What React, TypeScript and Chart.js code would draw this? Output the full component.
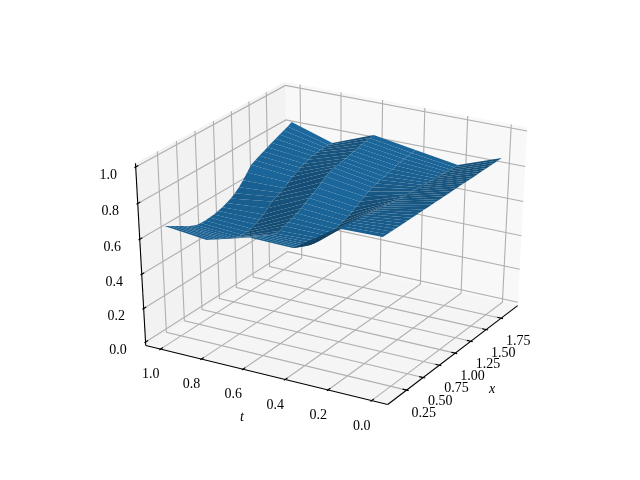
import React, { useEffect, useRef } from "react";
import { Chart, registerables } from "chart.js";

Chart.register(...registerables);

// ---- data ----
const xNodes = [0.1, 0.16, 0.22, 0.28, 0.34, 0.4, 0.46, 0.52, 0.58, 0.64, 0.7, 0.76, 0.82, 0.88, 0.94, 1.0, 1.06, 1.12, 1.18, 1.24, 1.3, 1.36, 1.42, 1.48, 1.54, 1.6, 1.66, 1.72, 1.78, 1.84, 1.9];
const tNodes = [0, 0.2, 0.4, 0.6, 0.8, 1.0];
const zAtT00 = [0.86, 0.86, 0.86, 0.86, 0.86, 0.86, 0.86, 0.86, 0.86, 0.86, 0.86, 0.86, 0.86, 0.86, 0.86, 0.86, 0.86, 0.86, 0.86, 0.86, 0.86, 0.86, 0.86, 0.86, 0.86, 0.86, 0.86, 0.86, 0.861, 0.861, 0.861];
const zAtT02 = [0.856, 0.852, 0.848, 0.844, 0.84, 0.836, 0.832, 0.828, 0.824, 0.82, 0.816, 0.812, 0.809, 0.805, 0.8, 0.798, 0.796, 0.794, 0.793, 0.791, 0.789, 0.787, 0.785, 0.784, 0.782, 0.78, 0.779, 0.778, 0.776, 0.775, 0.7735];
const zAtT04 = [0.695, 0.683, 0.671, 0.66, 0.65, 0.645, 0.641, 0.64, 0.641, 0.645, 0.65, 0.658, 0.666, 0.676, 0.688, 0.7, 0.715, 0.73, 0.744, 0.753, 0.76, 0.766, 0.772, 0.778, 0.784, 0.79, 0.796, 0.801, 0.805, 0.808, 0.811];
const zAtT06 = [0.7, 0.688, 0.676, 0.664, 0.652, 0.64, 0.632, 0.632, 0.644, 0.651, 0.66, 0.672, 0.685, 0.7, 0.714, 0.727, 0.744, 0.761, 0.779, 0.792, 0.8, 0.804, 0.809, 0.813, 0.819, 0.825, 0.831, 0.837, 0.843, 0.847, 0.85];
const zAtT08 = [0.634, 0.621, 0.608, 0.595, 0.581, 0.568, 0.556, 0.546, 0.543, 0.545, 0.548, 0.558, 0.57, 0.585, 0.605, 0.63, 0.641, 0.652, 0.665, 0.682, 0.7, 0.712, 0.724, 0.734, 0.743, 0.752, 0.757, 0.76, 0.76, 0.759, 0.7575];
const zAtT10 = [0.66, 0.645, 0.63, 0.615, 0.6, 0.585, 0.572, 0.561, 0.558, 0.557, 0.56, 0.563, 0.568, 0.575, 0.585, 0.597, 0.613, 0.633, 0.66, 0.69, 0.722, 0.733, 0.745, 0.756, 0.768, 0.78, 0.79, 0.8, 0.81, 0.821, 0.833];
const zRows = [zAtT00, zAtT02, zAtT04, zAtT06, zAtT08, zAtT10];

const xTicks = [0.25, 0.5, 0.75, 1.0, 1.25, 1.5, 1.75];
const xTickLabels = ["0.25", "0.50", "0.75", "1.00", "1.25", "1.50", "1.75"];
const tTicks = [0, 0.2, 0.4, 0.6, 0.8, 1.0];
const tTickLabels = ["0.0", "0.2", "0.4", "0.6", "0.8", "1.0"];
const zTicks = [0, 0.2, 0.4, 0.6, 0.8, 1.0];
const zTickLabels = ["0.0", "0.2", "0.4", "0.6", "0.8", "1.0"];
const xLim = [0.01, 1.99];
const tLim = [-0.05, 1.05];
const zLim = [0, 1];

// ---- 3D view (elevation 30, azimuth 210, distance 10) ----
const rad = Math.PI / 180;
const el = 30 * rad;
const az = 210 * rad;
const dist = 10;
const w3 = [Math.cos(el) * Math.cos(az), Math.cos(el) * Math.sin(az), Math.sin(el)];
const u3 = [-Math.sin(az), Math.cos(az), 0];
const v3 = [
  w3[1] * u3[2] - w3[2] * u3[1],
  w3[2] * u3[0] - w3[0] * u3[2],
  w3[0] * u3[1] - w3[1] * u3[0],
];
const dot = (a: number[], b: number[]) => a[0] * b[0] + a[1] * b[1] + a[2] * b[2];

const nx = (x: number) => (x - xLim[0]) / (xLim[1] - xLim[0]);
const nt = (t: number) => (t - tLim[0]) / (tLim[1] - tLim[0]);
const nz = (z: number) => (z - zLim[0]) / (zLim[1] - zLim[0]);
const depth = (n: number[]) => dist - dot([n[0] - 0.5, n[1] - 0.5, n[2] - 0.5], w3);
const project = (n: number[]) => {
  const d = [n[0] - 0.5, n[1] - 0.5, n[2] - 0.5];
  const D = dist - dot(d, w3);
  return { x: dot(d, u3) / D, y: dot(d, v3) / D };
};

const LO = -1 / 48;
const HI = 49 / 48;
const DELTA = 1 / 12;
const GRID = "#b0b0b0";
const LW = 1.11;

function lineSet(pts: number[][], color: string, width: number) {
  return {
    type: "scatter",
    data: pts.map(project),
    showLine: true,
    fill: false,
    tension: 0,
    borderColor: color,
    borderWidth: width,
    borderCapStyle: "butt",
    pointRadius: 0,
    clip: false,
  };
}
function paneSet(pts: number[][], color: string) {
  return {
    type: "scatter",
    data: pts.map(project),
    showLine: true,
    fill: "shape",
    tension: 0,
    backgroundColor: color,
    borderWidth: 0,
    pointRadius: 0,
    clip: false,
  };
}

function buildSurface() {
  const light = [
    Math.cos(225 * rad) * Math.cos(19.4712 * rad),
    Math.sin(225 * rad) * Math.cos(19.4712 * rad),
    Math.sin(19.4712 * rad),
  ];
  const xWeight = 3; // flatter response along x, as the reference's shading shows
  const quads: any[] = [];
  for (let r = 0; r < tNodes.length - 1; r++) {
    for (let c = 0; c < xNodes.length - 1; c++) {
      const corners = [
        [xNodes[c], tNodes[r], zRows[r][c]],
        [xNodes[c + 1], tNodes[r], zRows[r][c + 1]],
        [xNodes[c + 1], tNodes[r + 1], zRows[r + 1][c + 1]],
        [xNodes[c], tNodes[r + 1], zRows[r + 1][c]],
      ];
      const a = [(corners[2][0] - corners[0][0]) * xWeight, corners[2][1] - corners[0][1], corners[2][2] - corners[0][2]];
      const b = [(corners[3][0] - corners[1][0]) * xWeight, corners[3][1] - corners[1][1], corners[3][2] - corners[1][2]];
      const N = [a[1] * b[2] - a[2] * b[1], a[2] * b[0] - a[0] * b[2], a[0] * b[1] - a[1] * b[0]];
      const len = Math.hypot(N[0], N[1], N[2]);
      const shade = dot(N, light) / len;
      const norm = corners.map((p) => [nx(p[0]), nt(p[1]), nz(p[2])]);
      const meanDepth = norm.reduce((s, p) => s + depth(p), 0) / 4;
      quads.push({ norm, shade, meanDepth });
    }
  }
  const lo = Math.min(...quads.map((q) => q.shade));
  const hi = Math.max(...quads.map((q) => q.shade));
  quads.sort((p, q) => p.meanDepth - q.meanDepth); // nearest first: first dataset is painted last
  return quads.map((q) => {
    const k = 0.48 + 0.4 * Math.pow((q.shade - lo) / (hi - lo), 0.7);
    const col = `rgb(${31 * k},${119 * k},${180 * k})`;
    return paneSet(q.norm, col);
  });
}

function buildAxes() {
  const sets: any[] = [];
  sets.push(lineSet([[LO, HI, LO], [LO, LO, LO]], "#000", LW));
  sets.push(lineSet([[LO, LO, LO], [HI, LO, LO]], "#000", LW));
  sets.push(lineSet([[LO, HI, LO], [LO, HI, HI]], "#000", LW));
  const tOut = 0.1 * DELTA;
  const tIn = 0.2 * DELTA;
  for (const v of xTicks) sets.push(lineSet([[nx(v), LO - tOut, LO], [nx(v), LO + tIn, LO]], "#000", LW));
  for (const v of tTicks) sets.push(lineSet([[LO - tOut, nt(v), LO], [LO + tIn, nt(v), LO]], "#000", LW));
  for (const v of zTicks) sets.push(lineSet([[LO - tOut, HI, nz(v)], [LO + tIn, HI, nz(v)]], "#000", LW));
  return sets;
}

function buildGrid() {
  const sets: any[] = [];
  for (const v of xTicks) {
    const n = nx(v);
    sets.push(lineSet([[n, LO, LO], [n, HI, LO], [n, HI, HI]], GRID, LW));
  }
  for (const v of tTicks) {
    const n = nt(v);
    sets.push(lineSet([[LO, n, LO], [HI, n, LO], [HI, n, HI]], GRID, LW));
  }
  for (const v of zTicks) {
    const n = nz(v);
    sets.push(lineSet([[LO, HI, n], [HI, HI, n], [HI, LO, n]], GRID, LW));
  }
  return sets;
}

function buildPanes() {
  return [
    paneSet([[HI, LO, LO], [HI, HI, LO], [HI, HI, HI], [HI, LO, HI]], "rgba(242,242,242,0.5)"),
    paneSet([[LO, HI, LO], [HI, HI, LO], [HI, HI, HI], [LO, HI, HI]], "rgba(230,230,230,0.5)"),
    paneSet([[LO, LO, LO], [HI, LO, LO], [HI, HI, LO], [LO, HI, LO]], "rgba(236,236,236,0.5)"),
  ];
}

const labelPlugin = {
  id: "axisText",
  afterDatasetsDraw(chart: any) {
    const { ctx, scales } = chart;
    const put = (n: number[], dx: number, dy: number, text: string, font: string) => {
      const p = project(n);
      ctx.font = font;
      ctx.fillStyle = "#000";
      ctx.textAlign = "center";
      ctx.textBaseline = "middle";
      ctx.fillText(text, scales.x.getPixelForValue(p.x) + dx, scales.y.getPixelForValue(p.y) + dy);
    };
    const font = '14px "Liberation Serif"';
    ctx.save();
    xTicks.forEach((v, i) => put([nx(v), LO, LO], 17.2, 23.5, xTickLabels[i], font));
    tTicks.forEach((v, i) => put([LO, nt(v), LO], -9.8, 25.5, tTickLabels[i], font));
    zTicks.forEach((v, i) => put([LO, HI, nz(v)], -27.5, 8.2, zTickLabels[i], font));
    const ital = 'italic 14px "Liberation Serif"';
    put([nx(1.5), LO, LO], 6, 60, "x", ital);
    put([LO, nt(0.5), LO], -22, 43, "t", ital);
    ctx.restore();
  },
};

export default function App() {
  const ref = useRef<HTMLCanvasElement | null>(null);
  useEffect(() => {
    if (!ref.current) return;
    const datasets = [...buildAxes(), ...buildSurface(), ...buildGrid(), ...buildPanes()];
    const chart = new Chart(ref.current, {
      type: "scatter",
      data: { datasets: datasets as any },
      options: {
        responsive: false,
        animation: false,
        layout: { padding: { left: 80, right: 64, top: 57.6, bottom: 52.8 } },
        scales: {
          x: { type: "linear", min: -0.095, max: 0.09, display: false },
          y: { type: "linear", min: -0.095, max: 0.09, display: false },
        },
        plugins: { legend: { display: false }, tooltip: { enabled: false } },
      },
      plugins: [labelPlugin],
    } as any);
    return () => chart.destroy();
  }, []);
  return (
    <div style={{ position: "absolute", left: 0, top: 0, width: 640, height: 480, background: "#fff" }}>
      <canvas ref={ref} width={640} height={480} style={{ display: "block" }} />
    </div>
  );
}
